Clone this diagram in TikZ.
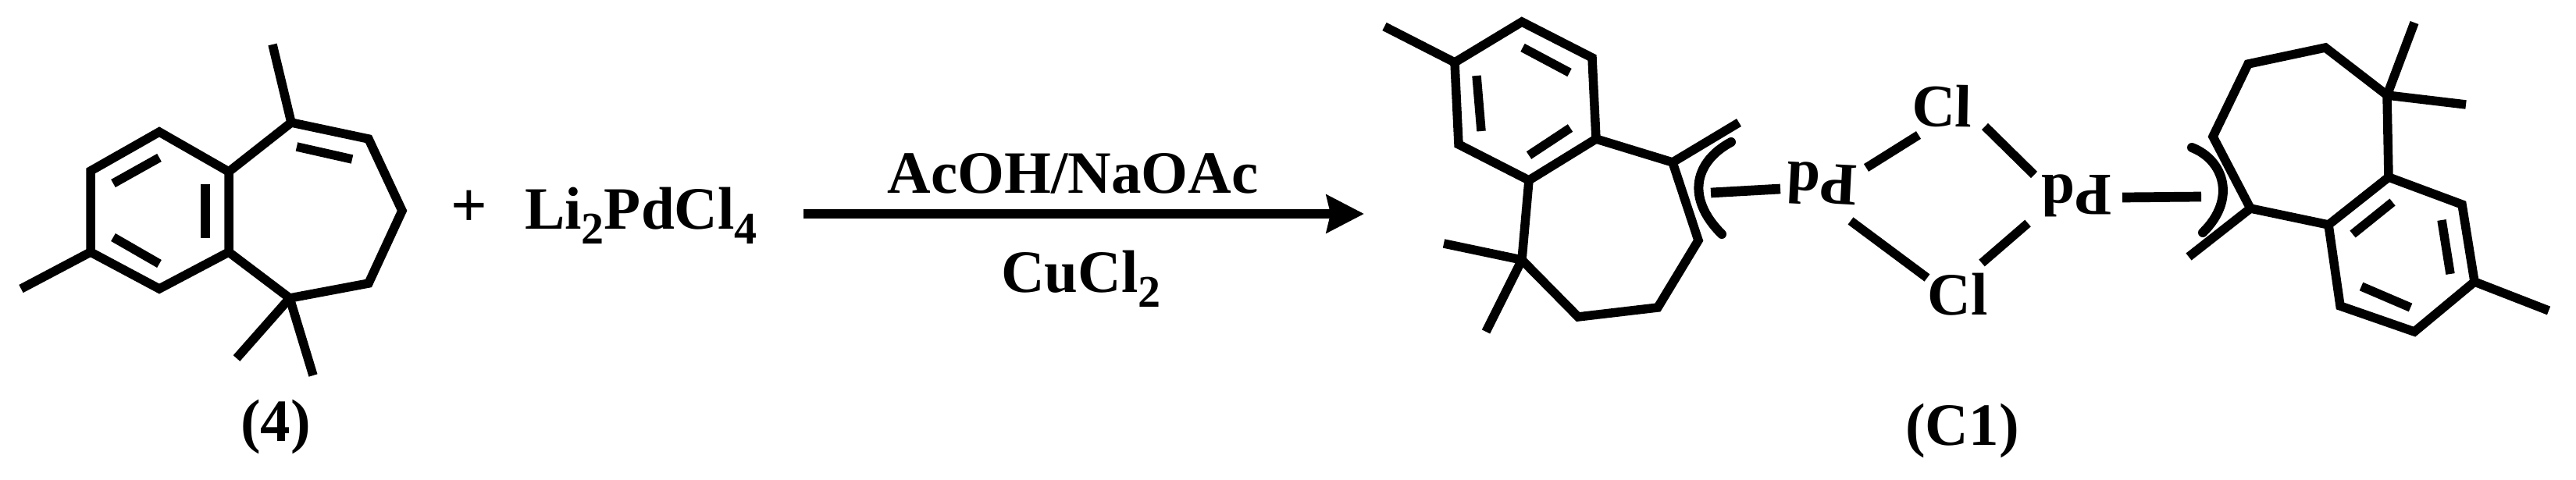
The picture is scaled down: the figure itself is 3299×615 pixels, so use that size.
\documentclass[tikz,border=0pt]{standalone}
\usepackage{fontspec}
\setmainfont{Liberation Serif}
\usetikzlibrary{arrows.meta}
\tikzset{
    bond/.style={line width=11.5pt, miter limit=10},
    pdbond/.style={line width=12.7pt},
    hapto/.style={line width=12pt, line cap=round},
    chem/.style={inner sep=0pt, font=\fontsize{77}{90}\selectfont\bfseries},
    rxnarrow/.style={line width=12.5pt, -{Stealth[length=48pt, width=48pt, inset=5pt]}}
}
\newcommand{\chemsub}[1]{\raisebox{-19pt}{\fontsize{58}{58}\selectfont #1}}
\begin{document}
\begin{tikzpicture}[x=1pt, y=-1pt]
    \useasboundingbox (0,0) rectangle (3299,615);
    % compound 4
    \coordinate (a1) at (293,220);
    \coordinate (a2) at (204,169);
    \coordinate (a3) at (116,219);
    \coordinate (a4) at (116,323);
    \coordinate (a5) at (204,370);
    \coordinate (a6) at (293,323);
    \coordinate (a7) at (373,157);
    \coordinate (a8) at (472,178);
    \coordinate (a9) at (515,270);
    \coordinate (a10) at (472,363);
    \coordinate (a11) at (371,382);
    \coordinate (ame1) at (349,57);
    \coordinate (ame2) at (27,370);
    \coordinate (ame3) at (303,459);
    \coordinate (ame4) at (401,481);
    \draw[bond] (a1) -- (a2) -- (a3) -- (a4) -- (a5) -- (a6) -- cycle;
    \draw[bond] (a1) -- (a7) -- (a8) -- (a9) -- (a10) -- (a11) -- (a6);
    \draw[bond] (a7) -- (ame1);
    \draw[bond] (a4) -- (ame2);
    \draw[bond] (a11) -- (ame3);
    \draw[bond] (a11) -- (ame4);
    \coordinate (ai1) at (204,202);
    \coordinate (ai2) at (145,235);
    \coordinate (ai3) at (263,236);
    \coordinate (ai4) at (263,305);
    \coordinate (ai5) at (145,304);
    \coordinate (ai6) at (204,338);
    \coordinate (ai7) at (380,188);
    \coordinate (ai8) at (451,204);
    \draw[bond] (ai1) -- (ai2);
    \draw[bond] (ai3) -- (ai4);
    \draw[bond] (ai5) -- (ai6);
    \draw[bond] (ai7) -- (ai8);
    \node[chem, anchor=base] (label4) at (353,565) {(4)};
    \node[chem, anchor=base, font=\fontsize{82}{90}\selectfont\bfseries] (plus) at (601,290) {+};
    \node[chem, anchor=base west] (pdsalt) at (672,293) {Li\chemsub{2}PdCl\chemsub{4}};
    % reaction arrow
    \coordinate (arrowstart) at (1029,274);
    \coordinate (arrowend) at (1747,274);
    \draw[rxnarrow] (arrowstart) -- (arrowend);
    \node[chem, anchor=base] (above) at (1374,247) {AcOH/NaOAc};
    \node[chem, anchor=base west] (below) at (1282,374) {CuCl\chemsub{2}};
    % left ligand of C1
    \coordinate (b1) at (1863,80);
    \coordinate (b2) at (1949,28);
    \coordinate (b3) at (2039,74);
    \coordinate (b4) at (2044,178);
    \coordinate (b5) at (1958,231);
    \coordinate (b6) at (1868,185);
    \coordinate (b7) at (2142,208);
    \coordinate (b8) at (2175,308);
    \coordinate (b9) at (2123,394);
    \coordinate (b10) at (2021,406);
    \coordinate (b11) at (1949,333);
    \coordinate (bme1) at (1773,34);
    \coordinate (bme2) at (2227,157);
    \coordinate (bme3) at (1849,312);
    \coordinate (bme4) at (1903,425);
    \draw[bond] (b1) -- (b2) -- (b3) -- (b4) -- (b5) -- (b6) -- cycle;
    \draw[bond] (b4) -- (b7) -- (b8) -- (b9) -- (b10) -- (b11) -- (b5);
    \draw[bond] (b1) -- (bme1);
    \draw[bond] (b7) -- (bme2);
    \draw[bond] (b11) -- (bme3);
    \draw[bond] (b11) -- (bme4);
    \coordinate (bi1) at (1891,97);
    \coordinate (bi2) at (1897,168);
    \coordinate (bi3) at (1950,61);
    \coordinate (bi4) at (2010,93);
    \coordinate (bi5) at (2011,164);
    \coordinate (bi6) at (1958,199);
    \draw[bond] (bi1) -- (bi2);
    \draw[bond] (bi3) -- (bi4);
    \draw[bond] (bi5) -- (bi6);
    \coordinate (harc1) at (2217,182);
    \coordinate (harc2) at (2172,206);
    \coordinate (harc3) at (2157,252);
    \coordinate (harc4) at (2205,300);
    \draw[hapto] (harc1) .. controls (harc2) and (harc3) .. (harc4);
    % Pd2Cl2 core
    \node[chem, rotate=177] (pdl) at (2333,236) {Pd};
    \node[chem, rotate=180] (pdr) at (2660,251) {Pd};
    \node[chem, rotate=-1] (clt) at (2487,136) {Cl};
    \node[chem] (clb) at (2507,377) {Cl};
    \coordinate (cb1) at (2457,173);
    \coordinate (cb2) at (2390,215);
    \coordinate (cb3) at (2542,162);
    \coordinate (cb4) at (2605,224);
    \coordinate (cb5) at (2370,283);
    \coordinate (cb6) at (2468,356);
    \coordinate (cb7) at (2597,286);
    \coordinate (cb8) at (2538,337);
    \draw[bond] (cb1) -- (cb2);
    \draw[bond] (cb3) -- (cb4);
    \draw[bond] (cb5) -- (cb6);
    \draw[bond] (cb7) -- (cb8);
    \coordinate (pb1) at (2191,247);
    \coordinate (pb2) at (2280,242);
    \coordinate (pb3) at (2718,253);
    \coordinate (pb4) at (2819,252);
    \draw[pdbond] (pb1) -- (pb2);
    \draw[pdbond] (pb3) -- (pb4);
    \node[chem, anchor=base] (labelc1) at (2513,570) {(C1)};
    % right ligand of C1
    \coordinate (c1) at (3059,227);
    \coordinate (c2) at (3153,262);
    \coordinate (c3) at (3169,361);
    \coordinate (c4) at (3092,425);
    \coordinate (c5) at (2997,392);
    \coordinate (c6) at (2982,288);
    \coordinate (c7) at (2882,267);
    \coordinate (c8) at (2834,175);
    \coordinate (c9) at (2879,82);
    \coordinate (c10) at (2978,61);
    \coordinate (c11) at (3057,122);
    \coordinate (cme1) at (3092,29);
    \coordinate (cme2) at (3158,134);
    \coordinate (cme3) at (2803,329);
    \coordinate (cme4) at (3264,398);
    \draw[bond] (c1) -- (c2) -- (c3) -- (c4) -- (c5) -- (c6) -- cycle;
    \draw[bond] (c6) -- (c7) -- (c8) -- (c9) -- (c10) -- (c11) -- (c1);
    \draw[bond] (c11) -- (cme1);
    \draw[bond] (c11) -- (cme2);
    \draw[bond] (c7) -- (cme3);
    \draw[bond] (c3) -- (cme4);
    \coordinate (ci1) at (3064,259);
    \coordinate (ci2) at (3013,300);
    \coordinate (ci3) at (3127,282);
    \coordinate (ci4) at (3138,351);
    \coordinate (ci5) at (3024,367);
    \coordinate (ci6) at (3087,394);
    \draw[bond] (ci1) -- (ci2);
    \draw[bond] (ci3) -- (ci4);
    \draw[bond] (ci5) -- (ci6);
    \coordinate (harc5) at (2807,189);
    \coordinate (harc6) at (2848,205);
    \coordinate (harc7) at (2865,255);
    \coordinate (harc8) at (2821,298);
    \draw[hapto] (harc5) .. controls (harc6) and (harc7) .. (harc8);
\end{tikzpicture}
\end{document}
